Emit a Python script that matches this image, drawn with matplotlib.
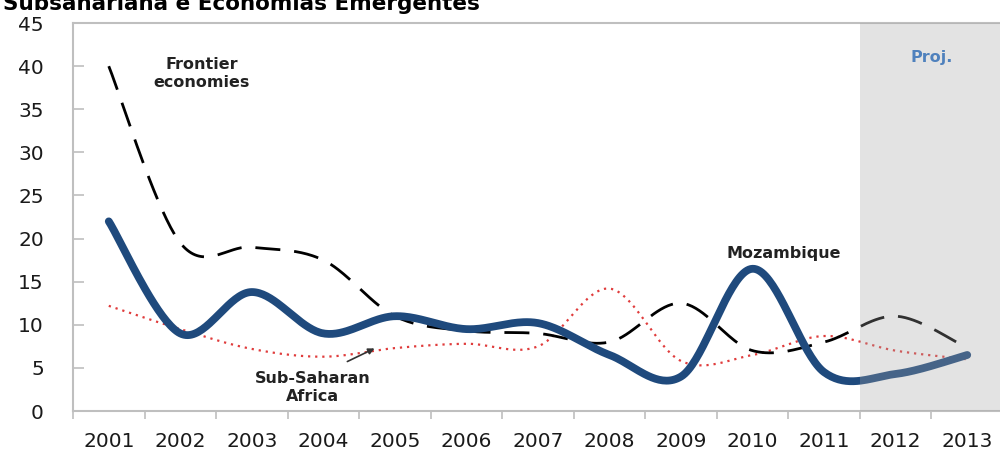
import numpy as np
import matplotlib
matplotlib.use("Agg")
import matplotlib.pyplot as plt

# Inflation, % (actuals through 2011, projections 2012-2013)
years = ["2001", "2002", "2003", "2004", "2005", "2006", "2007",
         "2008", "2009", "2010", "2011", "2012", "2013"]
mozambique = [22.0, 9.0, 13.8, 9.0, 11.0, 9.5, 10.2, 6.5, 4.0, 16.5, 4.5, 4.3, 6.5]
frontier = [40.0, 19.5, 19.0, 17.5, 11.0, 9.3, 9.0, 8.0, 12.5, 7.0, 8.0, 11.0, 7.3]
ssa = [12.2, 9.5, 7.2, 6.3, 7.3, 7.8, 7.5, 14.2, 5.8, 6.5, 8.7, 7.0, 6.0]


def smooth(xs, ys, n=40):
    # Bezier smoothing through every point, like spreadsheet "smoothed line"
    xs = np.asarray(xs, float)
    ys = np.asarray(ys, float)
    px = np.concatenate([[xs[0]], xs, [xs[-1]]])
    py = np.concatenate([[ys[0]], ys, [ys[-1]]])
    out_x, out_y = [], []
    t = np.linspace(0, 1, n)
    for i in range(1, len(px) - 2):
        p0 = np.array([px[i], py[i]])
        p3 = np.array([px[i + 1], py[i + 1]])
        c1 = p0 + (p3 - np.array([px[i - 1], py[i - 1]])) / 6
        c2 = p3 - (np.array([px[i + 2], py[i + 2]]) - p0) / 6
        b = ((1 - t) ** 3)[:, None] * p0 + (3 * (1 - t) ** 2 * t)[:, None] * c1 \
            + (3 * (1 - t) * t ** 2)[:, None] * c2 + (t ** 3)[:, None] * p3
        out_x.extend(b[:, 0])
        out_y.extend(b[:, 1])
    return np.array(out_x), np.array(out_y)


x = np.arange(1, len(years) + 1)

fig = plt.figure(figsize=(10, 4.49), dpi=100)
ax = fig.add_axes([0.073, 0.0846, 0.93, 0.864])

sx, sy = smooth(x, ssa)
ax.plot(sx, sy, color="#e03c3c", lw=1.6, ls=(0, (1, 2.2)), zorder=2)
fx, fy = smooth(x, frontier)
ax.plot(fx, fy, color="black", lw=2.0, ls=(0, (9, 5)), zorder=3)
mx, my = smooth(x, mozambique)
ax.plot(mx, my, color="#1f4a7d", lw=5.6, solid_capstyle="round", zorder=4)

# projection period shading
ax.axvspan(11.5, 13.5, color="#a3a3a3", alpha=0.3, lw=0, zorder=5)
ax.text(12.5, 41.0, "Proj.", color="#4f81bd", fontsize=11.5, fontweight="bold",
        ha="center", va="center", zorder=6)

lab = dict(ha="center", va="center", fontsize=11.5, fontweight="bold",
           color="#222222", linespacing=1.25)
ax.text(2.3, 39.1, "Frontier\neconomies", **lab)
ax.text(10.43, 18.3, "Mozambique", **lab)
ax.text(3.85, 2.7, "Sub-Saharan\nAfrica", **lab)
ax.annotate("", xy=(4.75, 7.4), xytext=(4.3, 5.6),
            arrowprops=dict(arrowstyle="-|>", color="#333333", lw=1.2,
                            mutation_scale=9))

ax.set_xlim(0.5, 13.5)
ax.set_ylim(0, 45)
ax.set_yticks(np.arange(0, 46, 5))
ax.set_xticks(x)
ax.set_xticklabels(years)
ax.set_xticks(np.arange(0.5, 14, 1), minor=True)
ax.tick_params(axis="x", which="major", length=0, pad=15, labelsize=14.5,
               labelcolor="#1a1a1a")
ax.tick_params(axis="x", which="minor", length=6, direction="out",
               color="#bfbfbf", width=1.2)
ax.tick_params(axis="y", length=8, direction="in", color="#bfbfbf",
               width=1.2, pad=21, labelsize=14.5, labelcolor="#1a1a1a")
for s in ["left", "bottom", "top"]:
    ax.spines[s].set_color("#bfbfbf")
    ax.spines[s].set_linewidth(1.5)
ax.spines["right"].set_visible(False)

fig.text(0.003, 0.99, "Subsahariana e Economias Emergentes", fontsize=15.5,
         fontweight="bold", ha="left", va="center")

fig.savefig("out.png", dpi=100)
